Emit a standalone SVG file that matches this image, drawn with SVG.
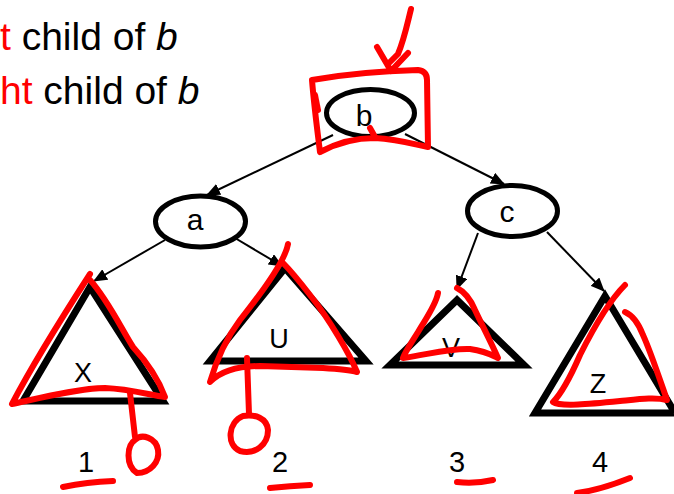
<svg xmlns="http://www.w3.org/2000/svg" width="674" height="494" viewBox="0 0 674 494">
<style>
.txt{font-family:"Liberation Sans",Arial,sans-serif;fill:#000}
.node ellipse{fill:#fff;stroke:#000;stroke-width:5}
.tri polygon{fill:#fff;stroke:#000;stroke-width:7;stroke-linejoin:miter;stroke-miterlimit:10}
.edge{stroke:#000;stroke-width:2;fill:none;marker-end:url(#ah)}
.red{stroke:#f00;stroke-width:6;fill:none;stroke-linecap:round;stroke-linejoin:round}
.lbl{font-size:30px;text-anchor:middle}
.tl{font-size:27px;text-anchor:middle}
.num{font-size:29px;text-anchor:middle}
</style>
<defs>
<marker id="ah" markerUnits="userSpaceOnUse" markerWidth="14" markerHeight="12" refX="13" refY="6" orient="auto">
<path d="M0,0 L14,6 L0,12 Z" fill="#000"/>
</marker>
</defs>
<rect width="674" height="494" fill="#fff"/>

<g id="heading" class="txt" font-size="39">
<text x="0" y="50"><tspan fill="#f00">t</tspan> child of <tspan font-style="italic">b</tspan></text>
<text x="0" y="104"><tspan fill="#f00">ht</tspan> child of <tspan font-style="italic">b</tspan></text>
</g>

<g id="connectors">
<line class="edge" x1="333" y1="135" x2="207" y2="195"/>
<line class="edge" x1="405" y1="134" x2="504" y2="184"/>
<line class="edge" x1="165" y1="240" x2="94" y2="281"/>
<line class="edge" x1="235" y1="238" x2="282" y2="266"/>
<line class="edge" x1="478" y1="233" x2="457" y2="289"/>
<line class="edge" x1="547" y1="232" x2="604" y2="291"/>
</g>

<g id="node-b" class="node">
<ellipse cx="370.5" cy="113" rx="44" ry="23.5"/>
<text class="txt lbl" x="364" y="126">b</text>
</g>
<g id="node-a" class="node">
<ellipse cx="200.5" cy="221.5" rx="45" ry="25.5"/>
<text class="txt lbl" x="195" y="230">a</text>
</g>
<g id="node-c" class="node">
<ellipse cx="512.5" cy="211" rx="45" ry="25.5"/>
<text class="txt lbl" x="507" y="222">c</text>
</g>

<g id="node-X" class="tri">
<polygon points="90,287 23,401 163,401"/>
<text class="txt tl" x="83" y="382">X</text>
</g>
<g id="node-U" class="tri">
<polygon points="285,268 210,361 366,361"/>
<text class="txt tl" x="279" y="348">U</text>
</g>
<g id="node-V" class="tri">
<polygon points="457,300 390,365 524,365"/>
<text class="txt tl" x="451" y="357">V</text>
</g>
<g id="node-Z" class="tri">
<polygon points="605,296 535,413 675,413"/>
<text class="txt tl" x="598" y="393">Z</text>
</g>

<g id="numbers" class="txt num">
<text x="86" y="472">1</text>
<text x="280" y="472">2</text>
<text x="457" y="472">3</text>
<text x="600" y="472">4</text>
</g>

<g id="annotations" class="red">
<path d="M320,152 C317,128 314,105 312,80 C340,75 380,71 418,70 Q427,71 427,80 L428,147 C410,143 395,139 375,138 C355,138 335,144 320,152"/>
<path d="M315,95 L318,110"/>
<path d="M370,128 L375,137"/>
<path d="M411,9 C407,25 404,40 398,54 L389,63"/>
<path d="M377,47 L391,71 L408,53"/>
<path d="M90,274 C70,305 35,360 12,404 C40,398 80,388 105,388 C130,389 150,395 165,397 C158,378 145,360 133,347 C122,330 108,300 90,280"/>
<path d="M130,393 L135,437"/>
<path d="M135,440 C127,445 125,465 137,473 C150,473 160,462 158,450 C156,438 142,433 135,440"/>
<path d="M63,487 Q87,482 113,481"/>
<path d="M288,244 C285,262 260,295 240,320 C225,340 215,365 210,382 C220,372 235,366 260,366 L323,368 C340,369 350,370 357,372 C350,355 330,320 310,295 C300,282 290,270 283,263"/>
<path d="M247,358 L249,414"/>
<path d="M243,416 C228,422 226,445 240,451 C255,455 268,445 268,430 C267,418 255,414 243,416"/>
<path d="M270,488 Q290,486 310,485"/>
<path d="M438,293 C436,305 425,320 418,332 C410,345 405,352 403,358 C430,354 450,348 470,349 C485,351 492,355 498,358 C490,340 482,325 475,310 C470,298 465,292 457,288"/>
<path d="M457,482 Q475,484 493,480"/>
<path d="M625,285 C612,298 595,325 580,355 C570,378 560,395 553,402 C560,407 590,404 620,401 C640,399 655,397 667,400 C660,380 650,350 643,335 C638,322 632,315 625,312"/>
<path d="M577,493 Q600,490 630,478"/>
</g>
</svg>
